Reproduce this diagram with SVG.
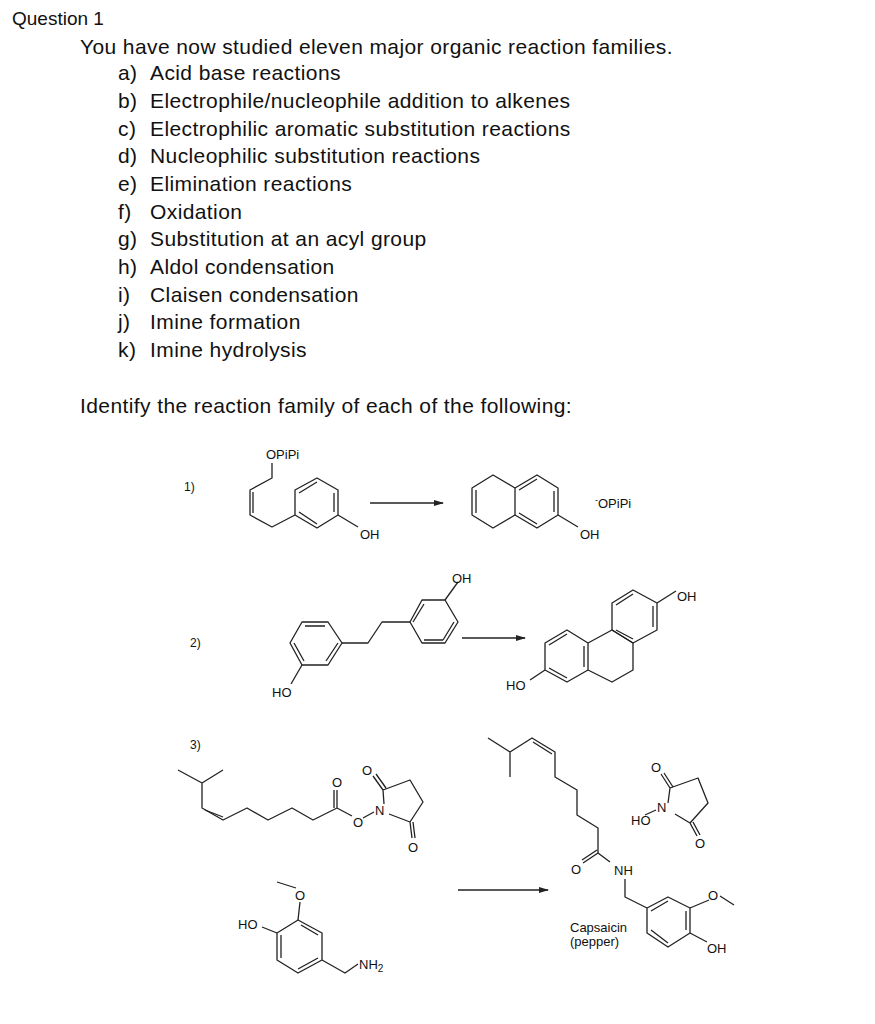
<svg xmlns="http://www.w3.org/2000/svg" width="875" height="1024" viewBox="0 0 875 1024">
<style>
text{font-family:"Liberation Sans",Arial,sans-serif;fill:#111}
.h{font-size:21px;letter-spacing:0.4px}
.m{font-size:13px}
.b{stroke:#222;stroke-width:1.3;fill:none;stroke-linejoin:round}
</style>
<defs><marker id="ah" markerWidth="10" markerHeight="8" refX="9" refY="4" orient="auto" markerUnits="userSpaceOnUse"><path d="M0,1 L10,4 L0,7 Z" fill="#222"/></marker></defs>
<rect width="875" height="1024" fill="#fff"/>
<text x="12" y="25" style="font-size:19px">Question 1</text>
<text class="h" x="80" y="54">You have now studied eleven major organic reaction families.</text>
<g class="h">
<text x="118" y="80">a)</text><text x="150" y="80">Acid base reactions</text>
<text x="118" y="108">b)</text><text x="150" y="108">Electrophile/nucleophile addition to alkenes</text>
<text x="118" y="136">c)</text><text x="150" y="136">Electrophilic aromatic substitution reactions</text>
<text x="118" y="163">d)</text><text x="150" y="163">Nucleophilic substitution reactions</text>
<text x="118" y="191">e)</text><text x="150" y="191">Elimination reactions</text>
<text x="118" y="219">f)</text><text x="150" y="219">Oxidation</text>
<text x="118" y="246">g)</text><text x="150" y="246">Substitution at an acyl group</text>
<text x="118" y="274">h)</text><text x="150" y="274">Aldol condensation</text>
<text x="118" y="302">i)</text><text x="150" y="302">Claisen condensation</text>
<text x="118" y="329">j)</text><text x="150" y="329">Imine formation</text>
<text x="118" y="357">k)</text><text x="150" y="357">Imine hydrolysis</text>
</g>
<text class="h" x="80" y="413">Identify the reaction family of each of the following:</text>
<g class="m">
<text x="184" y="491" style="font-size:12px">1)</text>
<text x="190" y="647" style="font-size:12px">2)</text>
<text x="190" y="749" style="font-size:12px">3)</text>
</g>
<g id="r1-reactant">
<text class="m" x="266" y="459">OPiPi</text>
<path class="b" d="M272,463 L272,478 L250,490 L250,515 L272,527 L295,515"/>
<path class="b" d="M253,492 L253,513"/>
<path class="b" d="M295,490 L317,478 L338,490 L338,515 L317,528 L295,515 Z"/>
<path class="b" d="M299,493 L317,482 M334,493 L334,512 M299,512 L317,524"/>
<path class="b" d="M338,515 L358,527"/>
<text class="m" x="360" y="539">OH</text>
</g>
<g id="r1-product">
<path class="b" d="M493,475 L515,488 L515,515 L493,528 L472,515 L472,488 Z M476,490 L476,513"/>
<path class="b" d="M515,488 L537,475 L558,488 L558,515 L537,528 L515,515 M519,490 L537,479 M554,491 L554,512 M519,513 L537,524"/>
<path class="b" d="M558,515 L578,527"/>
<text class="m" x="580" y="539">OH</text>
<text class="m" x="595" y="508"><tspan style="font-size:9px" dy="-5">-</tspan><tspan dy="5">OPiPi</tspan></text>
</g>
<g id="r2-reactant">
<path class="b" d="M302,622 L328,622 L342,643 L328,665 L302,665 L290,643 Z M305,626 L325,626 M338,643 L326,661 M294,643 L304,661"/>
<path class="b" d="M342,643 L368,643 L382,622 L410,622"/>
<path class="b" d="M422,600 L445,600 L458,622 L445,643 L422,643 L410,622 Z M424,604 L413,622 M454,622 L443,640 M424,640 L443,640"/>
<path class="b" d="M445,600 L458,582"/>
<text class="m" x="452" y="583">OH</text>
<path class="b" d="M302,665 L291,684"/>
<text class="m" x="272" y="697">HO</text>
</g>
<g id="r2-product">
<path class="b" d="M545,643 L567,630 L588,643 L588,670 L567,682 L545,670 Z M549,645 L567,634 M584,646 L584,667 M549,668 L567,678"/>
<path class="b" d="M588,643 L612,630 L633,643 L633,670 L612,682 L588,670"/>
<path class="b" d="M612,603 L633,590 L657,603 L657,630 L633,643 L612,630 Z M616,605 L633,594 M653,606 L653,627 M616,630 L633,639"/>
<path class="b" d="M657,603 L676,591"/>
<text class="m" x="677" y="601">OH</text>
<path class="b" d="M545,670 L530,680"/>
<text class="m" x="506" y="690">HO</text>
</g>
<g id="r3-ester">
<path class="b" d="M178,770 L202,783 L223,770 M202,783 L202,808 L223,820 L247,808 L268,820 L292,808 L313,820 L337,808 L337,790 M334,808 L334,790 M337,808 L352,816"/>
<path class="b" d="M205,810 L223,817"/>
<text class="m" x="332" y="787">O</text>
<text class="m" x="353" y="827">O</text>
<path class="b" d="M363,818 L374,812"/>
<text class="m" x="375" y="815">N</text>
<path class="b" d="M384,804 L383,790 L410,780 L423,802 L410,822 L389,814 M383,790 L373,776 M386,788 L376,774 M410,822 L412,838 M413,822 L415,838"/>
<text class="m" x="362" y="775">O</text>
<text class="m" x="408" y="852">O</text>
</g>
<g id="r3-amine">
<path class="b" d="M298,920 L322,933 L322,960 L298,973 L277,960 L277,933 Z M301,925 L318,935 M318,958 L298,969 M281,935 L281,958"/>
<path class="b" d="M298,920 L300,902 M296,888 L277,882"/>
<text class="m" x="295" y="900">O</text>
<path class="b" d="M262,927 L277,933"/>
<text class="m" x="238" y="929">HO</text>
<path class="b" d="M322,960 L345,973 L358,964"/>
<text class="m" x="359" y="969">NH<tspan style="font-size:10px" dy="3">2</tspan></text>
</g>
<g id="r3-capsaicin">
<path class="b" d="M488,738 L510,752 L510,777 M510,752 L532,738 L555,752 L555,777 L577,790 L577,815 L598,828 L598,853 L583,863 M597,850 L582,860 M598,853 L610,862"/>
<path class="b" d="M533,742 L552,754"/>
<text class="m" x="571" y="874">O</text>
<text class="m" x="614" y="875">NH</text>
<path class="b" d="M625,879 L625,897 L647,908"/>
<path class="b" d="M647,908 L668,897 L690,908 L690,933 L668,947 L647,933 Z M651,911 L668,901 M686,911 L686,930 M651,930 L668,943"/>
<path class="b" d="M690,908 L709,900 M720,896 L734,905"/>
<text class="m" x="708" y="900">O</text>
<path class="b" d="M690,933 L707,942"/>
<text class="m" x="707" y="953">OH</text>
<text class="m" x="570" y="932">Capsaicin</text>
<text class="m" x="570" y="946">(pepper)</text>
</g>
<g id="r3-nhs">
<path class="b" d="M668,803 L670,788 L698,778 L708,803 L690,823 L675,814 M670,788 L661,774 M673,787 L664,773 M690,823 L697,836 M693,822 L700,835"/>
<text class="m" x="651" y="772">O</text>
<text class="m" x="695" y="848">O</text>
<text class="m" x="657" y="812">N</text>
<path class="b" d="M645,815 L656,810"/>
<text class="m" x="631" y="825">HO</text>
</g>
<g id="arrows">
<path class="b" d="M370,503 L443,503" marker-end="url(#ah)"/>
<path class="b" d="M462,638 L525,638" marker-end="url(#ah)"/>
<path class="b" d="M458,890 L548,890" marker-end="url(#ah)"/>
</g>
</svg>
